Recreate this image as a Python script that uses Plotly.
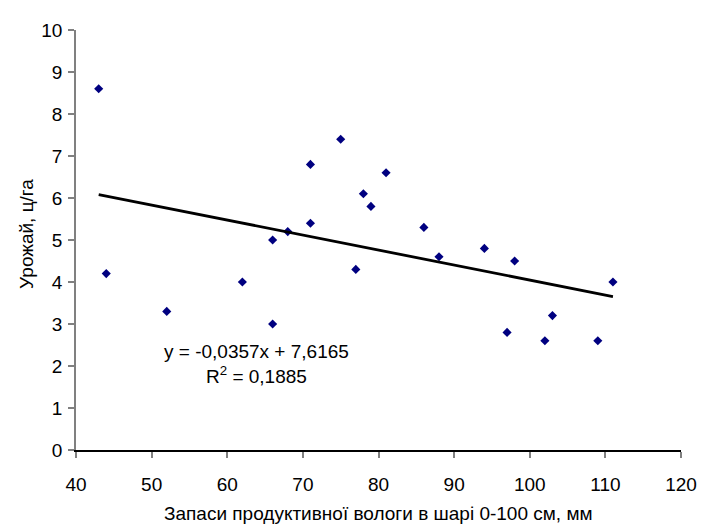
import plotly.graph_objects as go

# Data
moisture = [43, 44, 52, 62, 66, 66, 68, 71, 71, 75, 77, 78, 79, 81, 86, 88, 94, 97, 98, 102, 103, 109, 111]
yield_cwt = [8.6, 4.2, 3.3, 4.0, 5.0, 3.0, 5.2, 6.8, 5.4, 7.4, 4.3, 6.1, 5.8, 6.6, 5.3, 4.6, 4.8, 2.8, 4.5, 2.6, 3.2, 2.6, 4.0]

# Trendline coefficients as printed on the chart
slope = -0.0357
intercept = 7.6165
r2 = 0.1885

x_ticks = [40, 50, 60, 70, 80, 90, 100, 110, 120]
y_ticks = [0, 1, 2, 3, 4, 5, 6, 7, 8, 9, 10]

trend_x = [min(moisture), max(moisture)]
trend_y = [slope * v + intercept for v in trend_x]

FONT = "Liberation Sans, Arial, sans-serif"
FS = 19

fig = go.Figure()
fig.add_trace(go.Scatter(
    x=moisture, y=yield_cwt, mode="markers",
    marker=dict(symbol="diamond", size=7, color="#000080"),
    showlegend=False, hoverinfo="x+y"))
fig.add_trace(go.Scatter(
    x=trend_x, y=trend_y, mode="lines",
    line=dict(color="black", width=2.8),
    showlegend=False, hoverinfo="skip"))

# the page body adds an 8px offset, so the figure is sized 8px smaller
fig.update_layout(
    width=701, height=523,
    margin=dict(l=68, r=18, t=14, b=81),
    paper_bgcolor="white", plot_bgcolor="white",
    font=dict(family=FONT, size=FS, color="black"),
    xaxis=dict(range=[40, 120], tickvals=x_ticks, ticktext=[str(v) for v in x_ticks],
               showgrid=False, zeroline=False, showline=True, linecolor="black", linewidth=1.5,
               ticks="outside", ticklen=6, tickcolor="#808080", tickwidth=1.5,
               tickfont=dict(size=FS), ticklabelstandoff=10),
    yaxis=dict(range=[0, 10], tickvals=y_ticks, ticktext=[str(v) for v in y_ticks],
               showgrid=False, zeroline=False, showline=True, linecolor="#808080", linewidth=1.5,
               ticks="outside", ticklen=6, tickcolor="#808080", tickwidth=1.5,
               tickfont=dict(size=FS), ticklabelstandoff=2),
    annotations=[
        dict(text="Запаси продуктивної вологи в шарі 0-100 см, мм", xref="paper", yref="paper",
             x=0.5, y=-0.152, xanchor="center", yanchor="middle", showarrow=False,
             font=dict(size=FS)),
        dict(text="Урожай, ц/га", xref="paper", yref="paper",
             x=-0.083, y=0.514, xanchor="center", yanchor="middle", showarrow=False,
             textangle=-90, font=dict(size=FS)),
        dict(text="y = -0,0357x + 7,6165<br>R<sup>2</sup> = 0,1885", xref="paper", yref="paper",
             x=(259 - 76) / 615, y=(450 - 362) / 428, xanchor="center", yanchor="middle",
             showarrow=False, align="center", font=dict(size=FS)),
    ],
)

fig.write_html("out.html")
